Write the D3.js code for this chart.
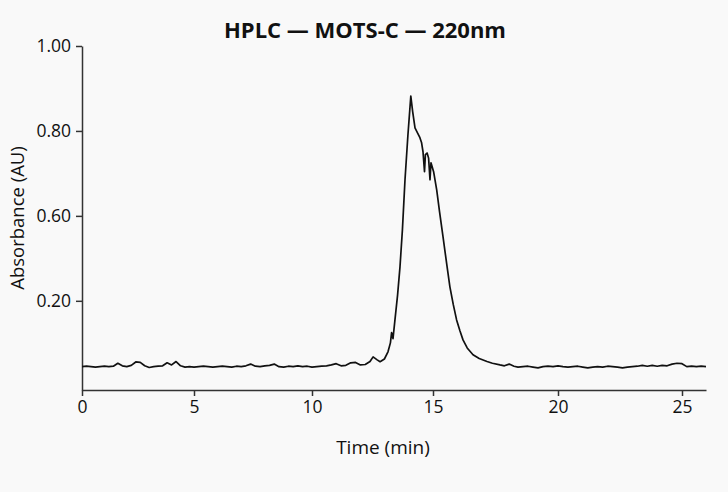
<!DOCTYPE html>
<html>
<head>
<meta charset="utf-8">
<script src="https://cdn.jsdelivr.net/npm/d3@7"></script>
<style>
  html, body { margin: 0; padding: 0; background: #f9f9f9; }
  svg { display: block; font-family: "Open Sans", Lato, sans-serif; }
</style>
</head>
<body>
<svg id="chart"></svg>
<script>
// Chromatogram trace
const timeMin = [
  0.0, 0.2, 0.4, 0.6, 0.8, 1.0, 1.2, 1.4, 1.6, 1.8, 2.0, 2.2, 2.4, 2.6, 2.8, 3.0, 3.2, 3.4, 3.6, 3.8,
  4.0, 4.2, 4.4, 4.6, 4.8, 5.0, 5.2, 5.4, 5.6, 5.8, 6.0, 6.2, 6.4, 6.6, 6.8, 7.0, 7.2, 7.4, 7.6, 7.8,
  8.0, 8.2, 8.4, 8.6, 8.8, 9.0, 9.2, 9.4, 9.6, 9.8, 10.0, 10.2, 10.4, 10.6, 10.8, 11.0, 11.2, 11.4, 11.6, 11.8,
  12.0, 12.2, 12.397, 12.525, 12.694, 12.814, 12.992, 13.14, 13.24, 13.289, 13.347, 13.428, 13.537, 13.636,
  13.736, 13.843, 13.963, 14.083, 14.161, 14.256, 14.38, 14.459, 14.529, 14.587, 14.649, 14.686, 14.756,
  14.818, 14.876, 14.917, 15.024, 15.148, 15.264, 15.4, 15.552, 15.676, 15.812, 15.944, 16.08, 16.2,
  16.368, 16.6, 16.848, 17.16, 17.376, 17.68, 17.856, 18.048, 18.24,
  18.4, 18.6, 18.8, 19.0, 19.2, 19.4, 19.6, 19.8, 20.0, 20.2, 20.4, 20.6, 20.8, 21.0, 21.2, 21.4, 21.6,
  21.8, 22.0, 22.2, 22.4, 22.6, 22.8, 23.0, 23.2, 23.4, 23.6, 23.8, 24.0, 24.2, 24.4, 24.6, 24.8, 25.0,
  25.2, 25.4, 25.6, 25.8, 26.0
];
const absorbance = [
  0.245, 0.246, 0.245, 0.244, 0.245, 0.246, 0.245, 0.246, 0.253, 0.247, 0.245, 0.248, 0.256, 0.255, 0.247, 0.243, 0.245, 0.246, 0.247, 0.254,
  0.249, 0.257, 0.247, 0.244, 0.245, 0.244, 0.245, 0.246, 0.245, 0.244, 0.245, 0.246, 0.245, 0.244, 0.246, 0.245, 0.247, 0.251, 0.246, 0.245,
  0.247, 0.248, 0.251, 0.245, 0.244, 0.246, 0.245, 0.247, 0.245, 0.246, 0.244, 0.245, 0.246, 0.247, 0.249, 0.252, 0.247, 0.248, 0.254, 0.255,
  0.249, 0.250, 0.257, 0.268, 0.261, 0.2565, 0.263, 0.280, 0.301, 0.325, 0.311, 0.355, 0.414, 0.480,
  0.567, 0.685, 0.790, 0.882, 0.845, 0.807, 0.793, 0.784, 0.772, 0.751, 0.704, 0.744, 0.748,
  0.736, 0.685, 0.725, 0.704, 0.661, 0.609, 0.551, 0.485, 0.433, 0.391, 0.355, 0.329, 0.308,
  0.289, 0.273, 0.264, 0.257, 0.253, 0.249, 0.247, 0.251, 0.246,
  0.244, 0.245, 0.246, 0.244, 0.242, 0.245, 0.246, 0.245, 0.247, 0.245, 0.244, 0.245, 0.246, 0.244, 0.242, 0.244, 0.245,
  0.244, 0.246, 0.245, 0.244, 0.242, 0.244, 0.245, 0.246, 0.248, 0.246, 0.248, 0.246, 0.248, 0.247, 0.251, 0.253, 0.252,
  0.245, 0.246, 0.245, 0.246, 0.245
];

// the reference's time axis is not evenly spaced; these are its tick stops
const xTicks = [0, 5, 10, 15, 20, 25];
const xStops = [0, 5, 10, 15, 20, 25, 26];
const xStopPx = [82, 194, 312, 433, 558, 682, 706];
const yTicks = [1.0, 0.8, 0.6, 0.4];
const yTickLabels = ["1.00", "0.80", "0.60", "0.20"];

const width = 728;
const height = 492;
const margin = { top: 46, right: 22, bottom: 102, left: 82 };

const svg = d3.select("#chart")
    .attr("width", width)
    .attr("height", height);

svg.append("rect")
    .attr("width", width)
    .attr("height", height)
    .attr("fill", "#f9f9f9");

const x = d3.scaleLinear()
    .domain(xStops)
    .range(xStopPx);

const y = d3.scaleLinear()
    .domain([0.19, 1.0])
    .range([height - margin.bottom, margin.top]);

// title
svg.append("text")
    .attr("x", 365)
    .attr("y", 38)
    .attr("text-anchor", "middle")
    .attr("font-size", 22)
    .attr("font-weight", "bold")
    .attr("fill", "#111")
    .text("HPLC — MOTS-C — 220nm");

// axes
const xAxis = svg.append("g")
    .attr("transform", `translate(0,${height - margin.bottom})`)
    .call(d3.axisBottom(x).tickValues(xTicks).tickSizeOuter(0).tickPadding(5));

const yAxis = svg.append("g")
    .attr("transform", `translate(${margin.left},0)`)
    .call(d3.axisLeft(y).tickValues(yTicks)
        .tickFormat((d, i) => yTickLabels[i])
        .tickSizeOuter(0).tickPadding(5));

[xAxis, yAxis].forEach(g => {
    g.selectAll("path, line").attr("stroke", "#333").attr("stroke-width", 1.5);
    g.selectAll("text").attr("font-size", 17.5).attr("fill", "#111")
        .attr("font-family", "'Open Sans', Lato, sans-serif");
});

svg.append("text")
    .attr("x", 383)
    .attr("y", 454)
    .attr("text-anchor", "middle")
    .attr("font-size", 19)
    .attr("fill", "#111")
    .text("Time (min)");

svg.append("text")
    .attr("transform", `translate(24,${(margin.top + height - margin.bottom) / 2}) rotate(-90)`)
    .attr("text-anchor", "middle")
    .attr("font-size", 18.5)
    .attr("fill", "#111")
    .text("Absorbance (AU)");

// trace
const line = d3.line()
    .x((d, i) => x(timeMin[i]))
    .y(d => y(d))
    .curve(d3.curveLinear);

svg.append("path")
    .datum(absorbance)
    .attr("d", line)
    .attr("fill", "none")
    .attr("stroke", "#111")
    .attr("stroke-width", 1.7)
    .attr("stroke-linejoin", "round");
</script>
</body>
</html>
